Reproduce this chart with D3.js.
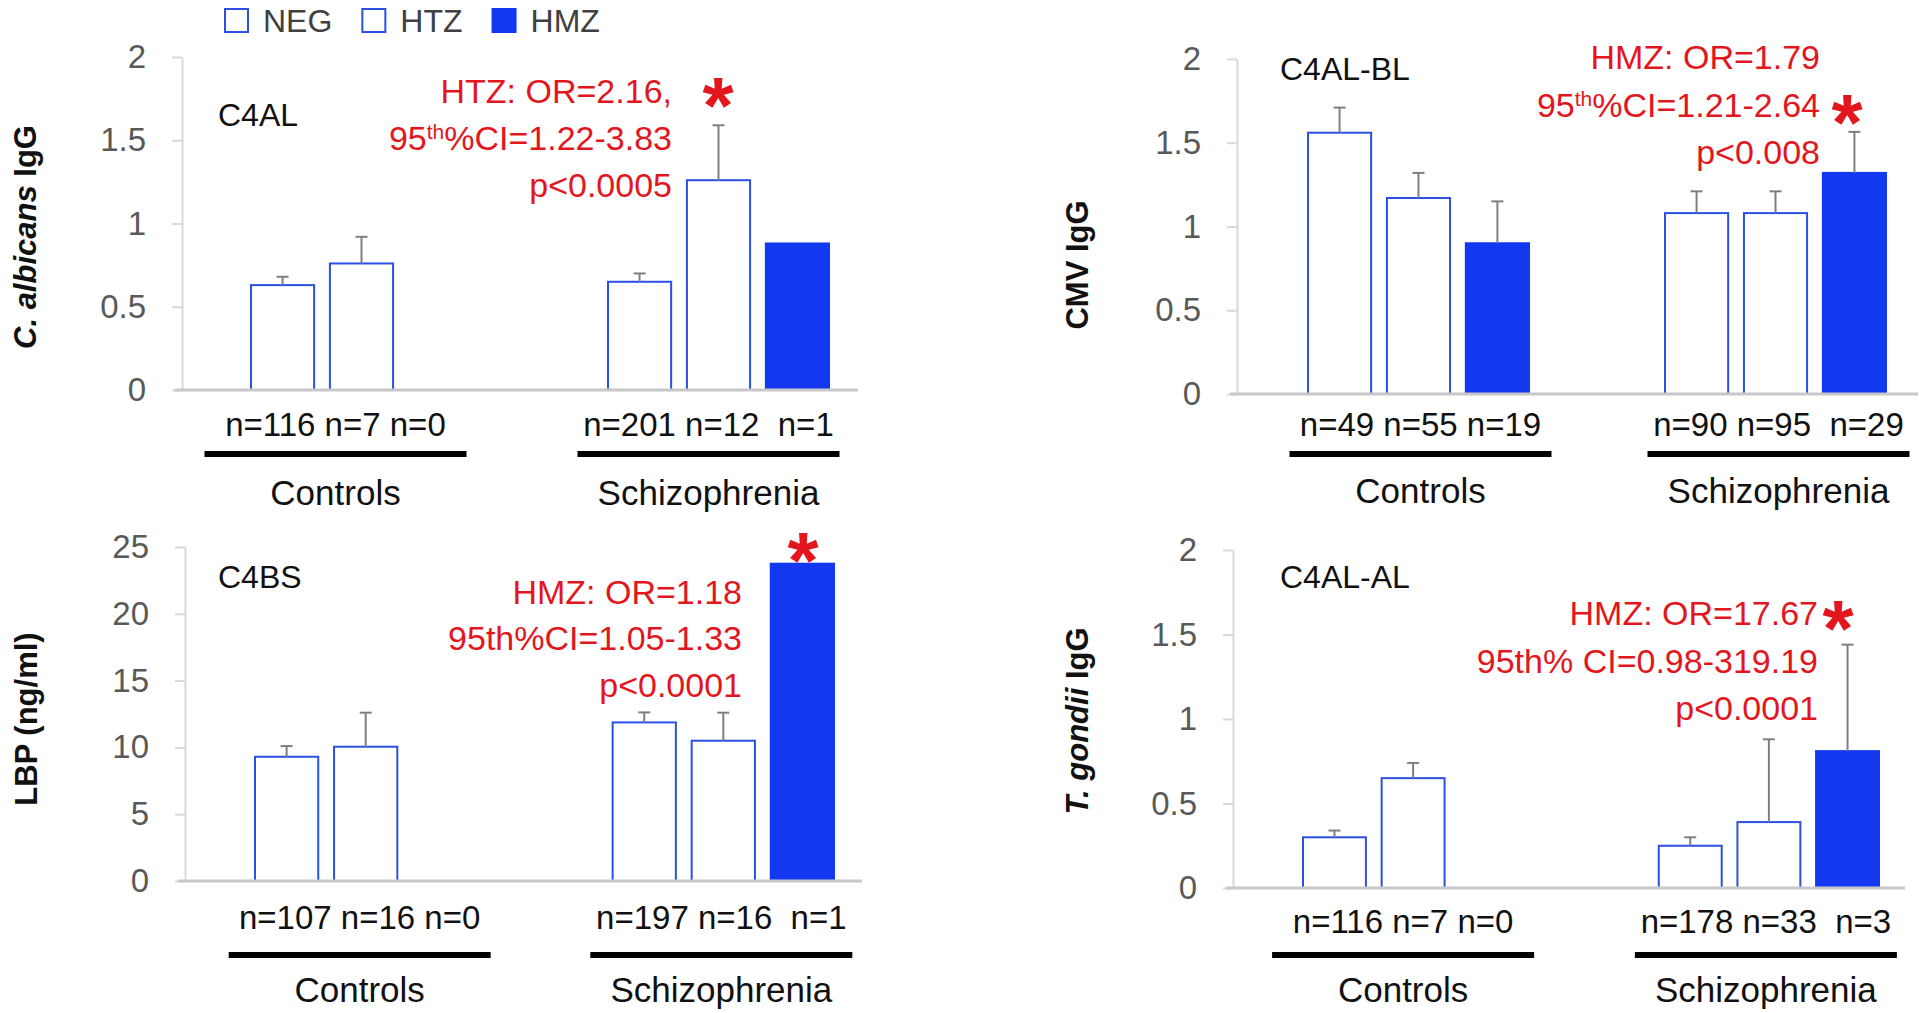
<!DOCTYPE html>
<html>
<head>
<meta charset="utf-8">
<title>C4 genotypes and antibody levels</title>
<script src="https://cdn.jsdelivr.net/npm/d3@7"></script>
<style>
    body { margin: 0; background: #fff; }
    svg text { font-family: "Liberation Sans", Arial, sans-serif; }
</style>
</head>
<body>
<script>
var groups = ["Controls", "Schizophrenia"];
var genotypes = ["NEG", "HTZ", "HMZ"];

// C4AL: C. albicans IgG
var albicansMean = [[0.63, 0.76, null], [0.65, 1.26, 0.88]];
var albicansSE = [[0.05, 0.16, null], [0.05, 0.33, null]];
var albicansN = [[116, 7, 0], [201, 12, 1]];
var albicansNote = ["HTZ: OR=2.16,", "95^th^%CI=1.22-3.83", "p<0.0005"];

// C4AL-BL: CMV IgG
var cmvMean = [[1.56, 1.17, 0.90], [1.08, 1.08, 1.32]];
var cmvSE = [[0.15, 0.15, 0.25], [0.13, 0.13, 0.245]];
var cmvN = [[49, 55, 19], [90, 95, 29]];
var cmvNote = ["HMZ: OR=1.79", "95^th^%CI=1.21-2.64", "p<0.008"];

// C4BS: LBP (ng/ml)
var lbpMean = [[9.3, 10.05, null], [11.87, 10.5, 23.75]];
var lbpSE = [[0.8, 2.55, null], [0.75, 2.1, null]];
var lbpN = [[107, 16, 0], [197, 16, 1]];
var lbpNote = ["HMZ: OR=1.18", "95th%CI=1.05-1.33", "p<0.0001"];

// C4AL-AL: T. gondii IgG
var gondiiMean = [[0.30, 0.65, null], [0.25, 0.39, 0.81]];
var gondiiSE = [[0.04, 0.09, null], [0.05, 0.49, 0.63]];
var gondiiN = [[116, 7, 0], [178, 33, 3]];
var gondiiNote = ["HMZ: OR=17.67", "95th% CI=0.98-319.19", "p<0.0001"];

var ticks2 = [0, 0.5, 1, 1.5, 2];
var ticks25 = [0, 5, 10, 15, 20, 25];

var W = 1920, H = 1013;
var blue = "#1238f0", outline = "#2c4fe4", red = "#e3161e";

var panels = [
    { title: "C4AL", ylab: [["C. albicans", true], [" IgG", false]],
      mean: albicansMean, se: albicansSE, n: albicansN, note: albicansNote, ticks: ticks2,
      axisX: 182, axisEnd: 858, y0: 390, y1: 57, bars: [251, 829], titleX: 218, titleY: 126,
      ylabX: 25, ylabY: 237, noteX: 672, noteY: [103, 150, 197], star: [718, 87],
      shift: [-26, -10], nY: 436, lineY: 454, grpY: 505 },
    { title: "C4AL-BL", ylab: [["CMV IgG", false]],
      mean: cmvMean, se: cmvSE, n: cmvN, note: cmvNote, ticks: ticks2,
      axisX: 1237, axisEnd: 1918, y0: 394, y1: 59, bars: [1308, 1886], titleX: 1280, titleY: 80,
      ylabX: 1077, ylabY: 265, noteX: 1820, noteY: [69, 117, 164], star: [1847, 104],
      shift: [2, 3], nY: 436, lineY: 454, grpY: 503 },
    { title: "C4BS", ylab: [["LBP (ng/ml)", false]],
      mean: lbpMean, se: lbpSE, n: lbpN, note: lbpNote, ticks: ticks25,
      axisX: 185, axisEnd: 862, y0: 881, y1: 547, bars: [255, 834], titleX: 218, titleY: 588,
      ylabX: 26, ylabY: 719, noteX: 742, noteY: [604, 650, 697], star: [803, 542],
      shift: [-6, -2], nY: 929, lineY: 955, grpY: 1002 },
    { title: "C4AL-AL", ylab: [["T. gondii", true], [" IgG", false]],
      mean: gondiiMean, se: gondiiSE, n: gondiiN, note: gondiiNote, ticks: ticks2,
      axisX: 1233, axisEnd: 1905, y0: 888, y1: 550, bars: [1303, 1879], titleX: 1280, titleY: 588,
      ylabX: 1077, ylabY: 721, noteX: 1818, noteY: [625, 673, 720], star: [1838, 610],
      shift: [-10, -3], nY: 933, lineY: 955, grpY: 1002 }
];

var svg = d3.select("body").append("svg")
    .attr("width", W)
    .attr("height", H);

// legend
var legend = svg.append("g");
var lx = 225;
genotypes.forEach(function(g, i) {
    legend.append("rect")
        .attr("x", lx).attr("y", 9)
        .attr("width", 23).attr("height", 23)
        .attr("fill", i == 2 ? blue : "#fff")
        .attr("stroke", i == 2 ? blue : outline)
        .attr("stroke-width", 2);
    var t = legend.append("text")
        .attr("x", lx + 38).attr("y", 32)
        .attr("font-size", "32px")
        .attr("fill", "#404040")
        .text(g);
    lx = lx + 38 + t.node().getComputedTextLength() + 30;
});

panels.forEach(function(p) {
    var g = svg.append("g");
    var ymax = p.ticks[p.ticks.length - 1];

    var y = d3.scaleLinear().domain([0, ymax]).range([p.y0, p.y1]);
    var xg = d3.scaleBand().domain(groups).range(p.bars).paddingInner(0.381).paddingOuter(0);
    var xk = d3.scaleBand().domain(genotypes).range([0, xg.bandwidth()]).paddingInner(0.2).paddingOuter(0);

    // y axis
    var ya = g.append("g")
        .attr("transform", "translate(" + p.axisX + ",0)")
        .call(d3.axisLeft(y).tickValues(p.ticks).tickSize(10).tickSizeOuter(0).tickPadding(26).tickFormat(d3.format("")));
    ya.select(".domain").attr("stroke", "#d9d9d9").attr("stroke-width", 2);
    ya.selectAll(".tick line").attr("stroke", "#d9d9d9").attr("stroke-width", 2);
    ya.selectAll(".tick text")
        .attr("font-family", "Liberation Sans, Arial, sans-serif")
        .attr("font-size", "33px")
        .attr("fill", "#595959");

    // bars
    var rows = [];
    groups.forEach(function(grp, gi) {
        genotypes.forEach(function(gt, ki) {
            if (p.mean[gi][ki] != null) {
                rows.push({ grp: grp, gt: gt, v: p.mean[gi][ki], se: p.se[gi][ki] });
            }
        });
    });

    g.selectAll("rect.bar")
        .data(rows)
        .enter()
        .append("rect")
        .attr("class", "bar")
        .attr("x", function(d) { return xg(d.grp) + xk(d.gt); })
        .attr("y", function(d) { return y(d.v); })
        .attr("width", xk.bandwidth())
        .attr("height", function(d) { return p.y0 - y(d.v); })
        .attr("fill", function(d) { return d.gt == "HMZ" ? blue : "#fff"; })
        .attr("stroke", function(d) { return d.gt == "HMZ" ? blue : outline; })
        .attr("stroke-width", 2);

    // error bars (upper only)
    var err = g.selectAll("g.err")
        .data(rows.filter(function(d) { return d.se != null; }))
        .enter()
        .append("g")
        .attr("class", "err")
        .attr("stroke", "#7f7f7f")
        .attr("stroke-width", 2);
    err.append("line")
        .attr("x1", function(d) { return xg(d.grp) + xk(d.gt) + xk.bandwidth() / 2; })
        .attr("x2", function(d) { return xg(d.grp) + xk(d.gt) + xk.bandwidth() / 2; })
        .attr("y1", function(d) { return y(d.v); })
        .attr("y2", function(d) { return y(d.v + d.se); });
    err.append("line")
        .attr("x1", function(d) { return xg(d.grp) + xk(d.gt) + xk.bandwidth() / 2 - 6; })
        .attr("x2", function(d) { return xg(d.grp) + xk(d.gt) + xk.bandwidth() / 2 + 6; })
        .attr("y1", function(d) { return y(d.v + d.se); })
        .attr("y2", function(d) { return y(d.v + d.se); });

    // x axis line
    g.append("line")
        .attr("x1", p.axisX - 7).attr("x2", p.axisEnd)
        .attr("y1", p.y0).attr("y2", p.y0)
        .attr("stroke", "#c8c8c8")
        .attr("stroke-width", 3);

    // panel title
    g.append("text")
        .attr("x", p.titleX).attr("y", p.titleY)
        .attr("font-size", "32px")
        .attr("fill", "#111")
        .text(p.title);

    // y label
    var yl = g.append("text")
        .attr("transform", "translate(" + p.ylabX + "," + p.ylabY + ") rotate(-90)")
        .attr("text-anchor", "middle")
        .attr("dy", "0.35em")
        .attr("font-size", "31px")
        .attr("font-weight", "bold")
        .attr("fill", "#111");
    p.ylab.forEach(function(part) {
        yl.append("tspan")
            .attr("font-style", part[1] ? "italic" : "normal")
            .text(part[0]);
    });

    // statistics note
    p.note.forEach(function(line, i) {
        var t = g.append("text")
            .attr("x", p.noteX).attr("y", p.noteY[i])
            .attr("text-anchor", "end")
            .attr("font-size", "34px")
            .attr("fill", red);
        line.split("^").forEach(function(s, j) {
            var ts = t.append("tspan").text(s);
            if (j % 2 == 1) {
                ts.attr("font-size", "21px").attr("baseline-shift", "super");
            }
        });
    });
    g.append("text")
        .attr("x", p.star[0]).attr("y", p.star[1] + 46)
        .attr("text-anchor", "middle")
        .attr("font-size", "80px")
        .attr("font-weight", "bold")
        .attr("fill", red)
        .text("*");

    // n labels, group bars and group names
    groups.forEach(function(grp, gi) {
        var cx = xg(grp) + xg.bandwidth() / 2 + p.shift[gi];
        var labs = p.n[gi].map(function(v) { return "n=" + v; });
        var txt = gi == 0 ? labs.join(" ") : labs.slice(0, 2).join(" ") + "  " + labs[2];
        g.append("text")
            .attr("x", cx).attr("y", p.nY)
            .attr("text-anchor", "middle")
            .attr("font-size", "33px")
            .attr("fill", "#111")
            .style("white-space", "pre")
            .text(txt);
        g.append("line")
            .attr("x1", cx - 131).attr("x2", cx + 131)
            .attr("y1", p.lineY).attr("y2", p.lineY)
            .attr("stroke", "#000")
            .attr("stroke-width", 6);
        g.append("text")
            .attr("x", cx).attr("y", p.grpY)
            .attr("text-anchor", "middle")
            .attr("font-size", "35px")
            .attr("fill", "#111")
            .text(grp);
    });
});
</script>
</body>
</html>
